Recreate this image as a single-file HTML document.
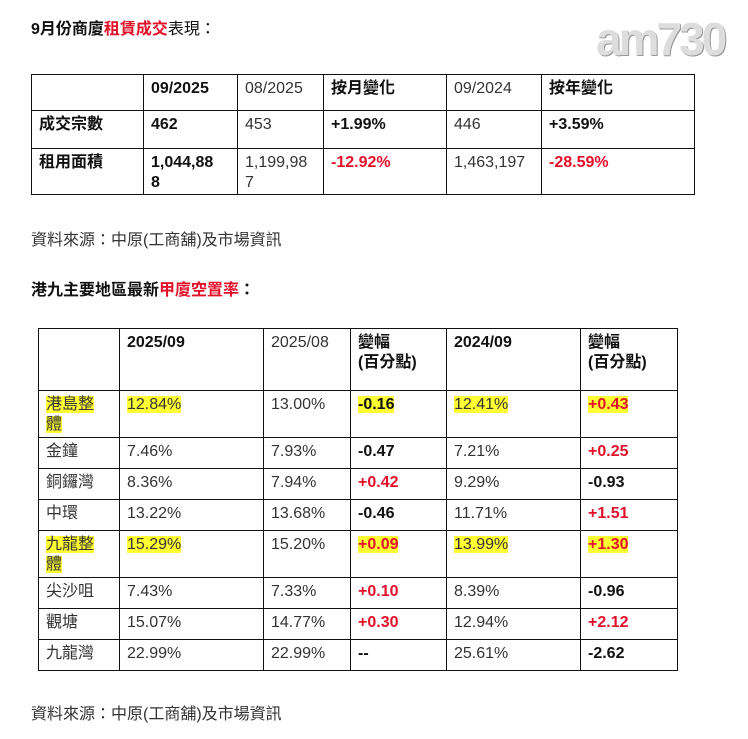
<!DOCTYPE html>
<html><head><meta charset="utf-8"><style>
body{margin:0;width:748px;height:739px;background:#fff;position:relative;overflow:hidden;font-family:"Liberation Sans","Noto Sans CJK TC",sans-serif;color:#333;}
.t{position:absolute;font-size:16px;}
h1{position:absolute;margin:0;font-size:16px;font-weight:bold;color:#111;}
.r{color:#e3102a;}
table{position:absolute;border-collapse:collapse;table-layout:fixed;font-size:16px;line-height:20px;}
td{border:1px solid #111;vertical-align:top;padding:4px 7px 1px 7px;overflow:hidden;}
b{color:#111;}
b.r{color:#e3102a;}
.y{background:#ffff33;}
.logo{position:absolute;left:596px;top:12px;font-size:46px;font-weight:bold;color:#ddd;letter-spacing:-3px;font-family:"Liberation Sans Narrow","Liberation Sans",sans-serif;text-shadow:1px 1px 0 #999;}
</style></head><body>
<h1 style="left:31px;top:15px">9月份商廈<span class="r">租賃成交</span><span style="font-weight:normal">表現：</span></h1>
<div class="logo">am730</div>
<table style="left:31px;top:74px;width:664px">
<colgroup><col style="width:112px"><col style="width:94px"><col style="width:86px"><col style="width:123px"><col style="width:95px"><col style="width:153px"></colgroup>
<tr style="height:36px"><td></td><td><b>09/2025</b></td><td>08/2025</td><td><b>按月變化</b></td><td>09/2024</td><td><b>按年變化</b></td></tr>
<tr style="height:38px"><td><b>成交宗數</b></td><td><b>462</b></td><td>453</td><td><b>+1.99%</b></td><td>446</td><td><b>+3.59%</b></td></tr>
<tr style="height:44px"><td><b>租用面積</b></td><td><b>1,044,88<br>8</b></td><td>1,199,98<br>7</td><td><b class="r">-12.92%</b></td><td>1,463,197</td><td><b class="r">-28.59%</b></td></tr>
</table>
<div class="t" style="left:31px;top:226px">資料來源：中原(工商舖)及市場資訊</div>
<h1 style="left:31px;top:276px">港九主要地區最新<span class="r">甲廈空置率</span>：</h1>
<table style="left:38px;top:328px;width:640px">
<colgroup><col style="width:81px"><col style="width:144px"><col style="width:87px"><col style="width:96px"><col style="width:134px"><col style="width:97px"></colgroup>
<tr style="height:62px"><td></td><td><b>2025/09</b></td><td>2025/08</td><td><b>變幅<br>(百分點)</b></td><td><b>2024/09</b></td><td><b>變幅<br>(百分點)</b></td></tr>
<tr style="height:47px"><td><span class="y">港島整<br>體</span></td><td><span class="y">12.84%</span></td><td>13.00%</td><td><b class="y">-0.16</b></td><td><span class="y">12.41%</span></td><td><b class="r y">+0.43</b></td></tr>
<tr style="height:31px"><td>金鐘</td><td>7.46%</td><td>7.93%</td><td><b>-0.47</b></td><td>7.21%</td><td><b class="r">+0.25</b></td></tr>
<tr style="height:31px"><td>銅鑼灣</td><td>8.36%</td><td>7.94%</td><td><b class="r">+0.42</b></td><td>9.29%</td><td><b>-0.93</b></td></tr>
<tr style="height:31px"><td>中環</td><td>13.22%</td><td>13.68%</td><td><b>-0.46</b></td><td>11.71%</td><td><b class="r">+1.51</b></td></tr>
<tr style="height:47px"><td><span class="y">九龍整<br>體</span></td><td><span class="y">15.29%</span></td><td>15.20%</td><td><b class="r y">+0.09</b></td><td><span class="y">13.99%</span></td><td><b class="r y">+1.30</b></td></tr>
<tr style="height:31px"><td>尖沙咀</td><td>7.43%</td><td>7.33%</td><td><b class="r">+0.10</b></td><td>8.39%</td><td><b>-0.96</b></td></tr>
<tr style="height:31px"><td>觀塘</td><td>15.07%</td><td>14.77%</td><td><b class="r">+0.30</b></td><td>12.94%</td><td><b class="r">+2.12</b></td></tr>
<tr style="height:31px"><td>九龍灣</td><td>22.99%</td><td>22.99%</td><td><b>--</b></td><td>25.61%</td><td><b>-2.62</b></td></tr>
</table>
<div class="t" style="left:31px;top:700px">資料來源：中原(工商舖)及市場資訊</div>
</body></html>
